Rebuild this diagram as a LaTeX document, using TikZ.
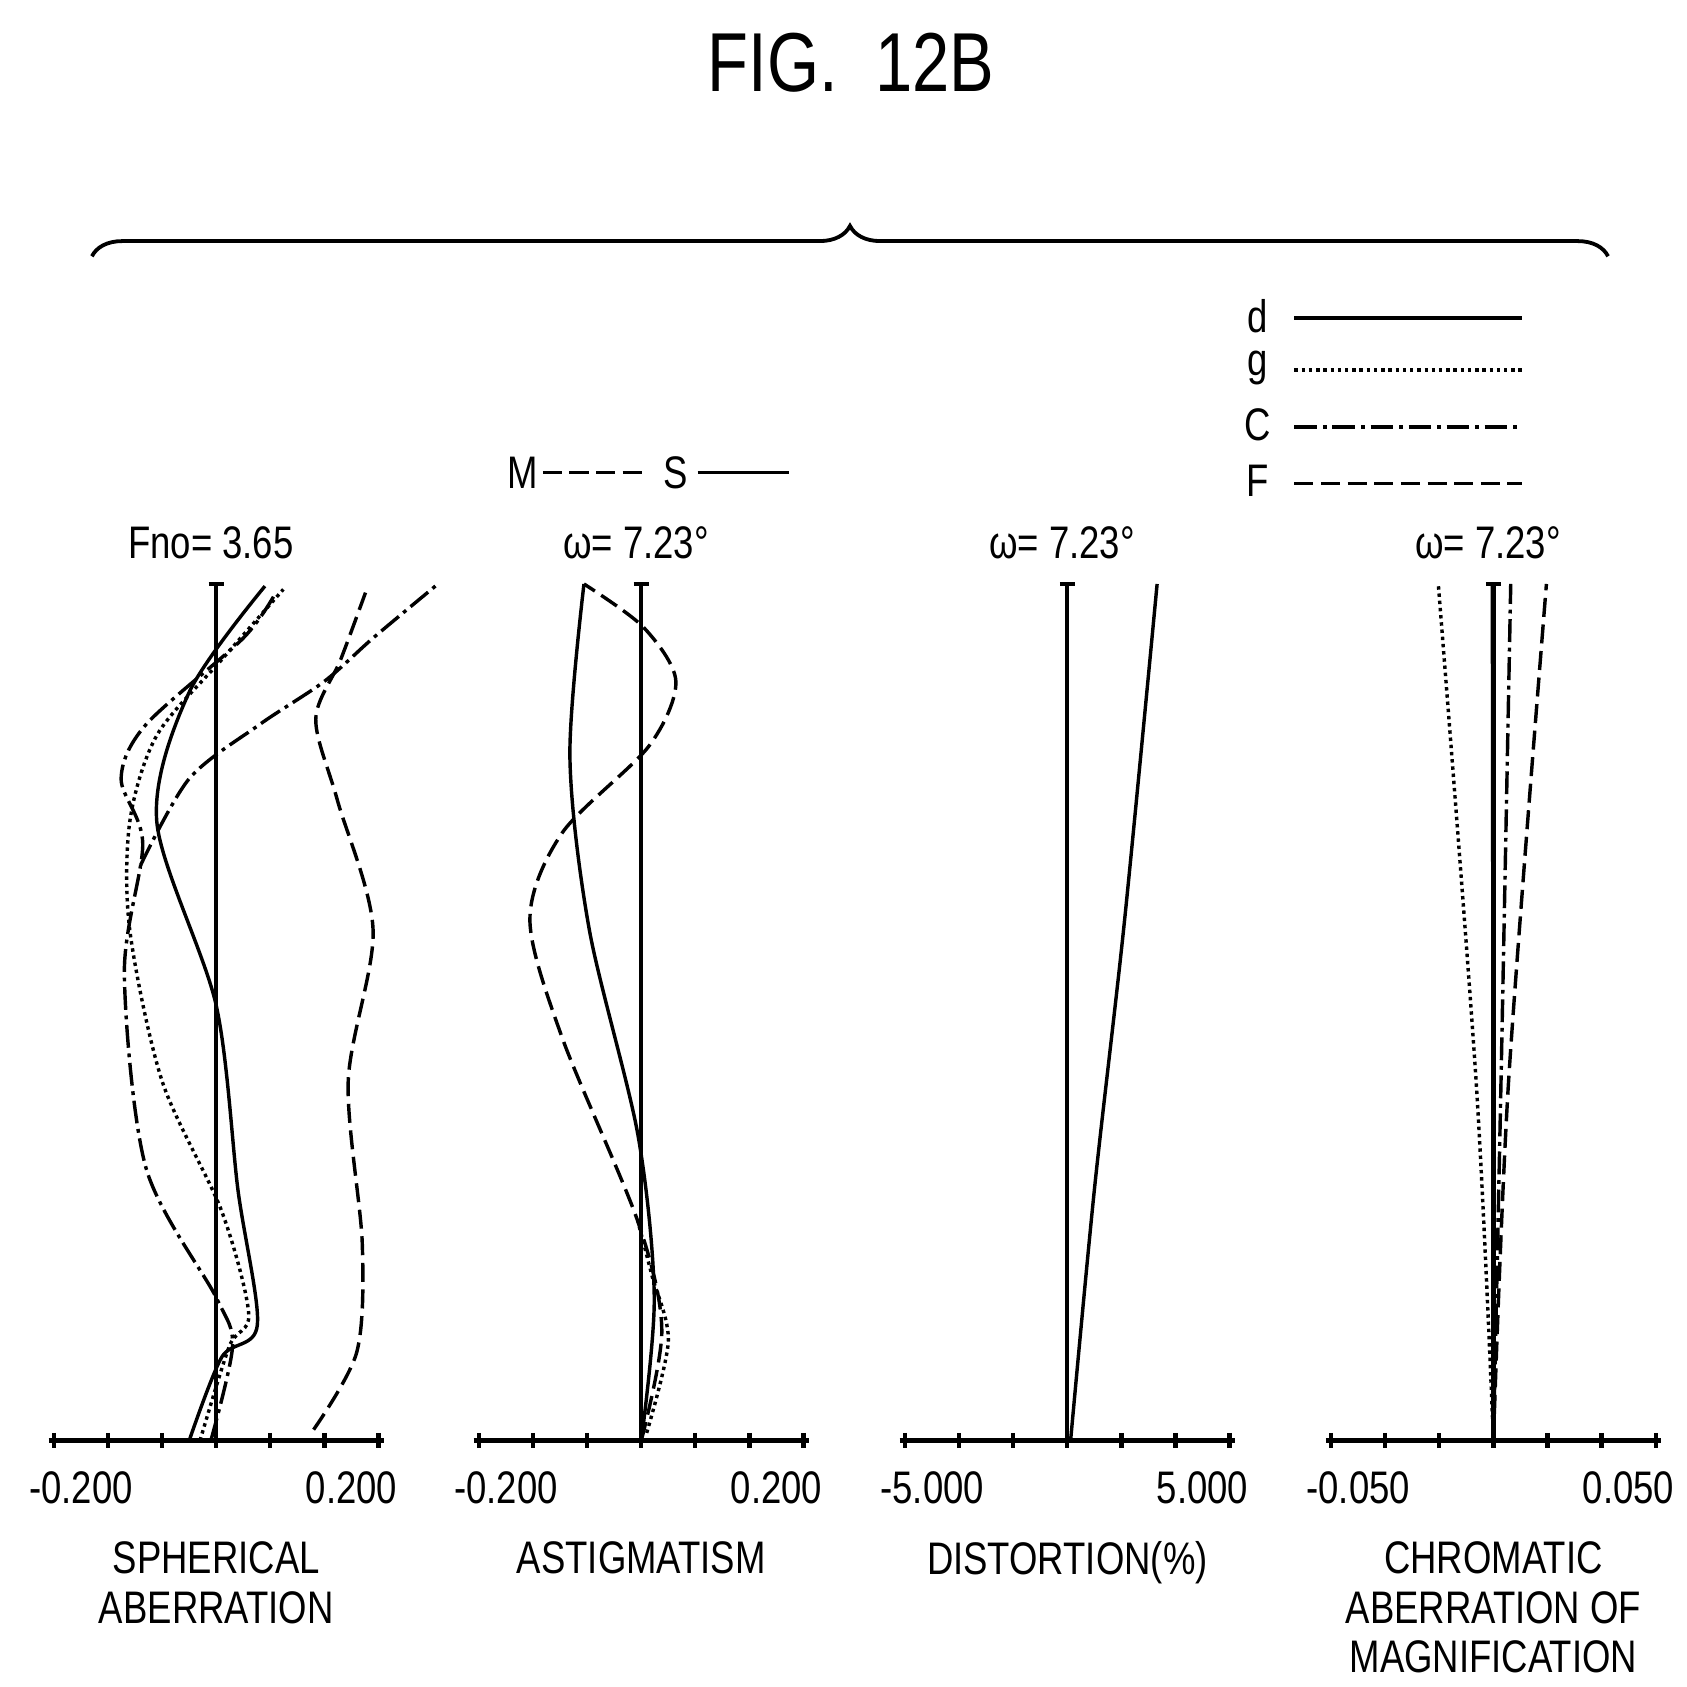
\documentclass[tikz,border=0pt]{standalone}
\usepackage{fontspec}
\setmainfont[FakeStretch=0.8]{Liberation Sans}
\usetikzlibrary{decorations.pathreplacing}
\tikzset{
  axisline/.style={line width=1.1pt},
  lbl/.style={font=\fontsize{12}{13}\selectfont, inner sep=0pt},
  dline/.style={line width=0.9pt},
  gline/.style={line width=0.9pt, densely dotted},
  cline/.style={line width=0.9pt, dash pattern=on 6pt off 1.5pt on 1pt off 1.5pt},
  fline/.style={line width=0.9pt, dash pattern=on 5pt off 2pt},
}
\newcommand{\panel}[4]{% center x, left label, right label, top label
  \draw[axisline] (#1-155,1332) -- (#1+155,1332);
  \foreach \t in {-150,-100,-50,0,50,100,150} \draw[axisline] (#1+\t,1325) -- (#1+\t,1339);
  \draw[axisline] (#1,1332) -- (#1,540);
  \draw[axisline] (#1-7,540) -- (#1+7,540);
  \node[lbl] at (#1-125,1376) {#2};
  \node[lbl] at (#1+125,1376) {#3};
  \node[lbl] at (#1-5,502) {#4};
}
\begin{document}
\begin{tikzpicture}[x=0.01cm,y=-0.01cm]
\useasboundingbox (0,0) rectangle (1560,1560);
\node[font=\fontsize{22}{26}\selectfont] (title) at (787,58) {FIG.\ \ 12B};
\draw[line width=1pt, decorate, decoration={brace, amplitude=8pt}] (85,237) -- (1487,237);
% legend
\foreach \n/\y/\s in {d/292/dline, g/340/gline, C/393/cline, F/445/fline}{
  \node[lbl] at (1163,\y) {\n};
  \draw[\s] (1197,\y+2) -- (1407,\y+2);
}
\node[lbl] (m) at (483,437) {M};
\draw[fline] (502,437) -- (600,437);
\node[lbl] (s) at (625,437) {S};
\draw[dline] (645,437) -- (730,437);
% panels
\panel{200}{-0.200}{0.200}{Fno= 3.65}
\panel{593}{-0.200}{0.200}{ω= 7.23°}
\panel{987}{-5.000}{5.000}{ω= 7.23°}
\panel{1381}{-0.050}{0.050}{ω= 7.23°}
% spherical aberration
\draw[dline] plot[smooth] coordinates {(175,1332)(205,1255)(238,1225)(220,1100)(200,930)(145,760)(175,640)(245,542)};
\draw[gline] plot[smooth] coordinates {(185,1332)(212,1245)(230,1215)(205,1120)(150,1000)(120,860)(120,760)(145,680)(205,610)(262,545)};
\draw[cline] plot[smooth] coordinates {(195,1332)(215,1245)(200,1200)(135,1080)(115,900)(132,780)(112,720)(135,670)(225,590)(255,548)};
\draw[fline] plot[smooth] coordinates {(290,1322)(330,1250)(335,1150)(322,1000)(345,860)(312,740)(292,665)(315,610)(338,548)};
\draw[cline] plot[smooth] coordinates {(130,800)(175,720)(240,670)(300,630)(345,590)(405,540)};
% astigmatism
\draw[dline] plot[smooth] coordinates {(593,1332)(605,1200)(590,1050)(545,860)(527,700)(540,540)};
\draw[fline] plot[smooth] coordinates {(593,1332)(612,1230)(590,1130)(520,960)(490,850)(520,770)(600,690)(625,630)(595,580)(540,540)};
\draw[gline] plot[smooth] coordinates {(598,1325)(618,1240)(603,1180)(590,1130)};
% distortion
\draw[dline] plot[smooth] coordinates {(990,1332)(1012,1100)(1040,850)(1070,540)};
% chromatic
\draw[dline] (1381,1332) -- (1380,540);
\draw[gline] plot[smooth] coordinates {(1381,1332)(1365,1000)(1330,540)};
\draw[cline] plot[smooth] coordinates {(1381,1332)(1388,1000)(1397,540)};
\draw[fline] plot[smooth] coordinates {(1381,1332)(1395,1000)(1430,540)};
% captions
\node[lbl, align=center, anchor=north] at (200,1425) {SPHERICAL\\ABERRATION};
\node[lbl, anchor=north] at (593,1425) {ASTIGMATISM};
\node[lbl, anchor=north] at (987,1425) {DISTORTION(\%)};
\node[lbl, align=center, anchor=north] at (1381,1425) {CHROMATIC\\ABERRATION OF\\MAGNIFICATION};
\end{tikzpicture}
\end{document}
